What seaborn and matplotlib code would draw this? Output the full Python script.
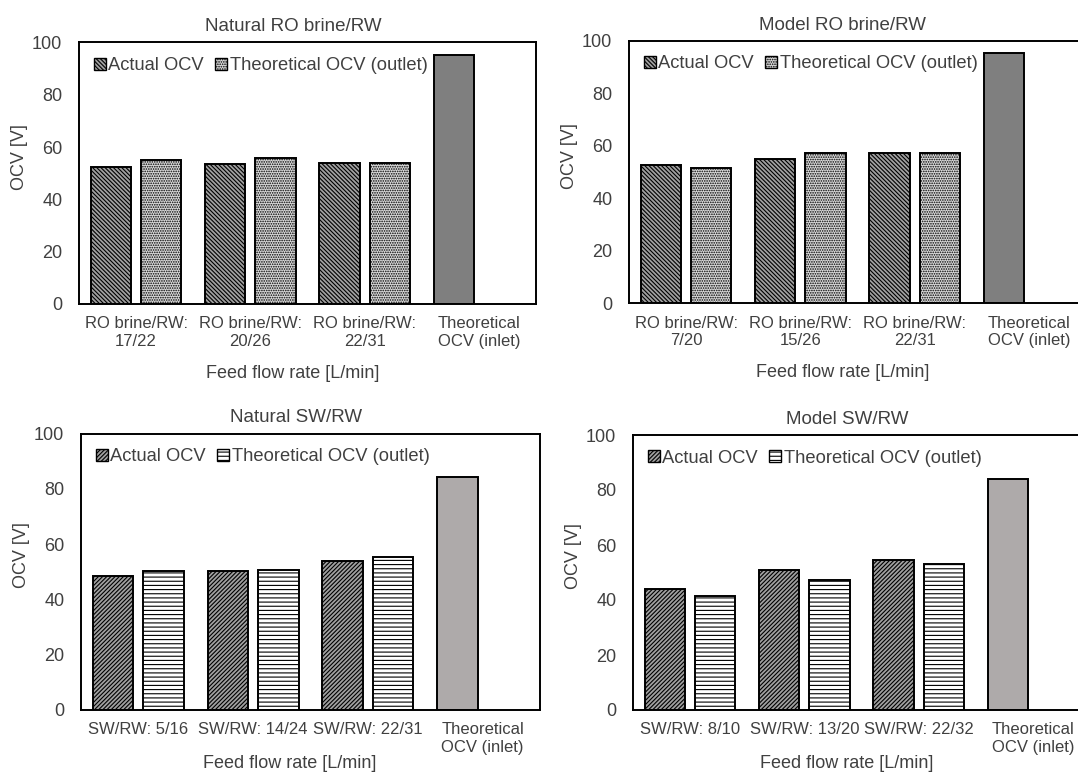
import matplotlib
matplotlib.use("Agg")
import matplotlib.pyplot as plt
from matplotlib.patches import Patch
import seaborn as sns
import pandas as pd

# --- data (OCV in V) ---
series_names = ["Actual OCV", "Theoretical OCV (outlet)"]
inlet_label = "Theoretical\nOCV (inlet)"

nat_ro_labels = ["RO brine/RW:\n17/22", "RO brine/RW:\n20/26", "RO brine/RW:\n22/31"]
nat_ro_actual = [52.4, 53.6, 54.1]
nat_ro_theo = [55.0, 55.7, 53.9]
nat_ro_inlet = 95.2

mod_ro_labels = ["RO brine/RW:\n7/20", "RO brine/RW:\n15/26", "RO brine/RW:\n22/31"]
mod_ro_actual = [52.7, 54.9, 57.2]
mod_ro_theo = [51.4, 57.4, 57.2]
mod_ro_inlet = 95.3

nat_sw_labels = ["SW/RW: 5/16", "SW/RW: 14/24", "SW/RW: 22/31"]
nat_sw_actual = [48.4, 50.4, 54.0]
nat_sw_theo = [50.4, 50.7, 55.2]
nat_sw_inlet = 84.3

mod_sw_labels = ["SW/RW: 8/10", "SW/RW: 13/20", "SW/RW: 22/32"]
mod_sw_actual = [44.0, 50.8, 54.5]
mod_sw_theo = [41.5, 47.2, 53.2]
mod_sw_inlet = 83.9

sns.set_theme(style="white")
plt.rcParams["font.family"] = ["Liberation Sans", "DejaVu Sans"]
plt.rcParams["hatch.linewidth"] = 0.8
text_col = "#404040"

W, H = 1078, 776
fig = plt.figure(figsize=(W / 100, H / 100), dpi=100)


def rect(left, top, width, height):
    # pixel box -> figure fraction
    return [left / W, 1 - (top + height) / H, width / W, height / H]


def draw_panel(ax, title, labels, actual, theo, inlet, hatches, inlet_color):
    cats = labels + [inlet_label]
    df = pd.DataFrame({
        "cat": cats + labels,
        "series": [series_names[0]] * 4 + [series_names[1]] * 3,
        "ocv": actual + [inlet] + theo,
    })
    sns.barplot(data=df, x="cat", y="ocv", hue="series", order=cats,
                hue_order=series_names, width=0.88, gap=0.2, errorbar=None,
                legend=False, edgecolor="black", linewidth=1.4, ax=ax)

    # restyle bars: hatch per series, plain grey for the inlet bar
    for i, cont in enumerate(ax.containers):
        for bar in cont:
            if bar.get_x() + bar.get_width() / 2 > 2.5:
                bar.set_facecolor(inlet_color)
                bar.set_hatch("")
            else:
                bar.set_facecolor(hatches[i][0])
                bar.set_hatch(hatches[i][1])
            bar.set_edgecolor("black")

    ax.set_xlim(-0.5, 3.5)
    ax.set_ylim(0, 100)
    ax.set_yticks(range(0, 101, 20))
    ax.tick_params(axis="y", length=0, pad=12, labelsize=13, labelcolor=text_col)
    ax.tick_params(axis="x", length=0, pad=9, labelsize=12, labelcolor=text_col)
    for s in ax.spines.values():
        s.set_color("black")
        s.set_linewidth(1.4)

    ax.set_title(title, fontsize=13.5, color=text_col, x=0.468, pad=8)
    ax.set_xlabel("Feed flow rate [L/min]", fontsize=13, color=text_col)
    ax.set_ylabel("OCV [V]", fontsize=13, color=text_col)
    ax.yaxis.set_label_coords(-0.112, 0.56)

    handles = [Patch(facecolor=hatches[0][0], hatch=hatches[0][1], edgecolor="black", label=series_names[0]),
               Patch(facecolor=hatches[1][0], hatch=hatches[1][1], edgecolor="black", label=series_names[1])]
    leg = ax.legend(handles=handles, loc="upper left", bbox_to_anchor=(0.0, 1.0), ncol=2,
                    frameon=False, fontsize=13.2, handlelength=0.65, handleheight=0.65,
                    handletextpad=0.15, columnspacing=0.6, borderaxespad=0.4)
    for t in leg.get_texts():
        t.set_color(text_col)


ro_hatches = [("#a0a0a0", "\\" * 8), ("#d9d9d9", "." * 7)]
sw_hatches = [("#a0a0a0", "/" * 8), ("white", "-" * 4)]

ax1 = fig.add_axes(rect(79, 42.5, 457, 261.5))
draw_panel(ax1, "Natural RO brine/RW", nat_ro_labels, nat_ro_actual, nat_ro_theo,
           nat_ro_inlet, ro_hatches, "#7f7f7f")
ax1.xaxis.set_label_coords(0.468, -0.233)

ax2 = fig.add_axes(rect(629, 40.7, 457, 262.6))
draw_panel(ax2, "Model RO brine/RW", mod_ro_labels, mod_ro_actual, mod_ro_theo,
           mod_ro_inlet, ro_hatches, "#7f7f7f")
ax2.xaxis.set_label_coords(0.468, -0.233)

ax3 = fig.add_axes(rect(81, 433.5, 459, 276.5))
draw_panel(ax3, "Natural SW/RW", nat_sw_labels, nat_sw_actual, nat_sw_theo,
           nat_sw_inlet, sw_hatches, "#aeaaaa")
ax3.xaxis.set_label_coords(0.455, -0.163)

ax4 = fig.add_axes(rect(633, 435, 457, 275))
draw_panel(ax4, "Model SW/RW", mod_sw_labels, mod_sw_actual, mod_sw_theo,
           mod_sw_inlet, sw_hatches, "#aeaaaa")
ax4.xaxis.set_label_coords(0.468, -0.163)

fig.savefig("out.png", dpi=100, facecolor="white")
